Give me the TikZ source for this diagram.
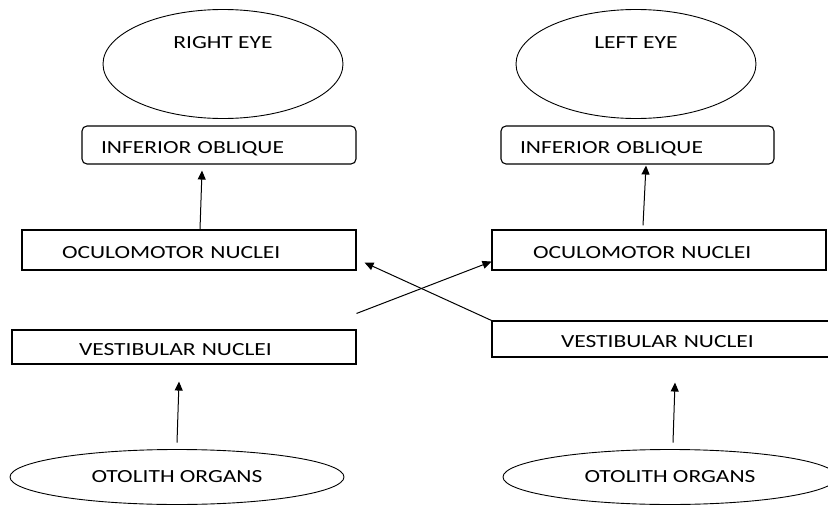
\documentclass[tikz,border=0pt]{standalone}
\usepackage{fontspec}
\setmainfont{Carlito}[FakeStretch=1.27]
\usetikzlibrary{shapes.geometric,arrows.meta}
\begin{document}
\begin{tikzpicture}[x=1pt,y=-1pt,
  every node/.style={font=\fontsize{18.5}{22}\selectfont, text=black},
  oval/.style={draw, ellipse, line width=0.9pt, inner sep=0pt},
  eyeoval/.style={oval, minimum width=240pt, minimum height=109pt},
  otooval/.style={oval, minimum width=334pt, minimum height=55pt},
  boxa/.style n args={3}{draw, rectangle, line width=1.1pt, minimum width=#1pt, minimum height=#2pt,
     inner xsep=#3pt, inner ysep=0pt, text width=#1pt-2*#3pt, align=left,
     text height=16pt, text depth=0pt},
  roundbox/.style n args={3}{boxa={#1}{#2}{#3}, rounded corners=5pt},
  conn/.style={line width=1pt, -{Triangle[length=9pt,width=8pt]}}
]
\useasboundingbox (0,0) rectangle (828,506);
\clip (0,0) rectangle (828,506);
\fill[white] (0,0) rectangle (828,506);

% left column (right eye)
\node[eyeoval, label={[anchor=center, yshift=-34pt, inner sep=0pt]north:RIGHT EYE}] (Aeye) at (223,64) {};
\node[roundbox={274}{38}{19}] (Aio) at (219,145) {INFERIOR OBLIQUE};
\node[boxa={334}{40}{40}] (Aoc) at (189,250) {OCULOMOTOR NUCLEI};
\node[boxa={344}{34}{67}] (Avn) at (184,347) {VESTIBULAR NUCLEI};
\node[otooval] (Aot) at (177,477) {OTOLITH ORGANS};

% right column (left eye)
\node[eyeoval, label={[anchor=center, yshift=-34pt, inner sep=0pt]north:LEFT EYE}] (Beye) at (636,64) {};
\node[roundbox={273}{38}{19}] (Bio) at (637.5,145) {INFERIOR OBLIQUE};
\node[boxa={334}{40}{41}] (Boc) at (659,250) {OCULOMOTOR NUCLEI};
\node[boxa={344}{36}{69}] (Bvn) at (664,339) {VESTIBULAR NUCLEI};
\node[otooval] (Bot) at (670,477) {OTOLITH ORGANS};

% connectors
\draw[conn] ([shift={(11,0)}]Aoc.north) -- ([shift={(-17,6)}]Aio.south);
\draw[conn] ([shift={(-16,-4)}]Boc.north) -- ([shift={(8.5,1)}]Bio.south);
\draw[conn] ([shift={(0,-16)}]Avn.north east) -- ([shift={(0,-9)}]Boc.south west);
\draw[conn] (Bvn.north west) -- ([shift={(8,-8)}]Aoc.south east);
\draw[conn] ([shift={(0,-6.5)}]Aot.north) -- ([shift={(-5,17)}]Avn.south);
\draw[conn] ([shift={(3,-6.5)}]Bot.north) -- ([shift={(11,25)}]Bvn.south);
\end{tikzpicture}
\end{document}
